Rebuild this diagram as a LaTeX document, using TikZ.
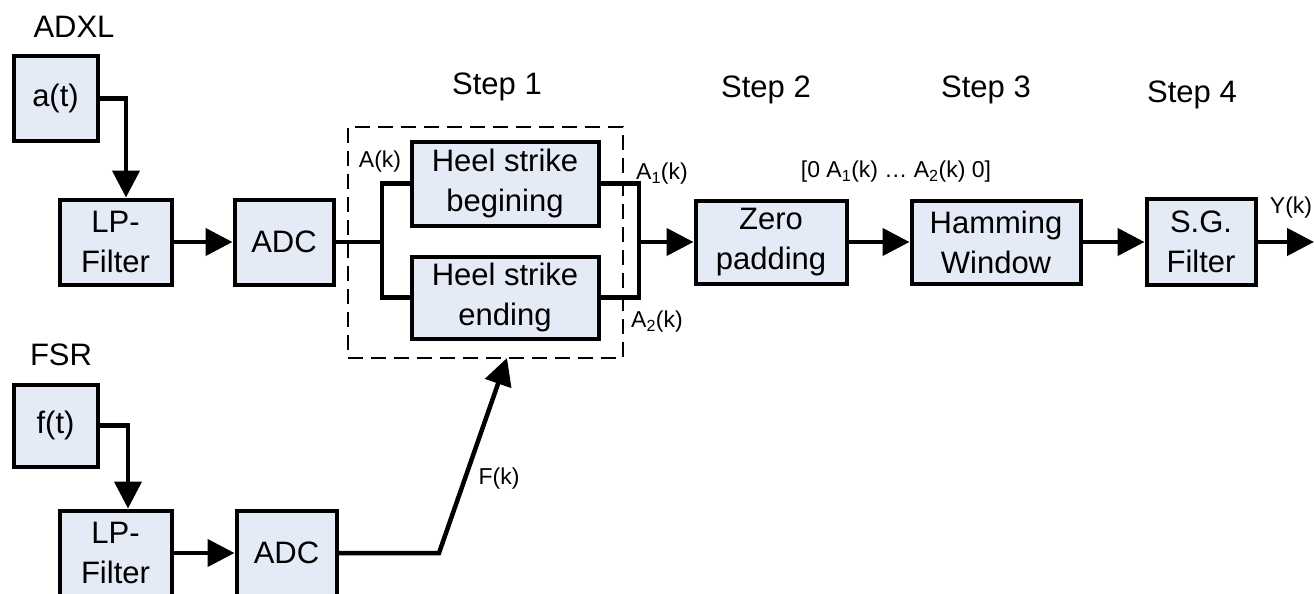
\documentclass[tikz,border=0pt]{standalone}
\usepackage{fontspec}
\setmainfont{Liberation Sans}
\usetikzlibrary{arrows.meta}
\definecolor{boxfill}{RGB}{228,234,246}
\tikzset{
  blk/.style={draw=black, fill=boxfill, line width=4pt, inner sep=0pt, align=center,
              font=\fontsize{31}{40}\selectfont},
  conn/.style={line width=4.5pt},
  arr/.style={conn, -{Triangle[length=27pt,width=27pt]}},
  big/.style={font=\fontsize{31}{37}\selectfont, inner sep=0pt},
  small/.style={font=\fontsize{23}{27}\selectfont, inner sep=0pt},
  grpbox/.style={draw=black, line width=2.5pt, dash pattern=on 15pt off 8pt, inner sep=0pt}
}
\begin{document}
\begin{tikzpicture}[x=1pt,y=-1pt]
\useasboundingbox (0,0) rectangle (1314,594);
\clip (0,0) rectangle (1314,594);

% titles
\node[big] (adxl) at (74,27) {ADXL};
\node[big] (fsr) at (61,355) {FSR};
\node[big] (s1) at (497,87) {Step 1};
\node[big] (s2) at (766,90) {Step 2};
\node[big] (s3) at (986,90) {Step 3};
\node[big] (s4) at (1192,95) {Step 4};

% dashed group
\node[grpbox, minimum width=275pt, minimum height=231pt] (grp) at (485.5,242.5) {};

% blocks
\node[blk, minimum width=84pt, minimum height=84pt] (at) at (55.5,98.5) {a(t)};
\node[blk, minimum width=112pt, minimum height=85pt] (lp1) at (115.5,242) {LP-\\Filter};
\node[blk, minimum width=99pt, minimum height=85pt] (adc1) at (284,242) {ADC};
\node[blk, minimum width=187pt, minimum height=84pt] (hsb) at (505,183.5) {Heel strike\\begining};
\node[blk, minimum width=187pt, minimum height=82pt] (hse) at (505,297.5) {Heel strike\\ending};
\node[blk, minimum width=151pt, minimum height=83pt] (zero) at (771,242) {Zero\\padding};
\node[blk, minimum width=169pt, minimum height=83pt] (ham) at (996,242) {Hamming\\Window};
\node[blk, minimum width=109pt, minimum height=86pt] (sg) at (1201,242) {S.G.\\Filter};

\node[blk, minimum width=84pt, minimum height=82pt] (ft) at (55.5,425.5) {f(t)};
\node[blk, minimum width=112pt, minimum height=85pt] (lp2) at (115.5,553) {LP-\\Filter};
\node[blk, minimum width=100pt, minimum height=85pt] (adc2) at (286.5,553) {ADC};

% small labels
\node[small] (ak) at (380,162) {A(k)};
\node[small] (a1k) at (662,174) {A\textsubscript{1}(k)};
\node[small] (a2k) at (657,322) {A\textsubscript{2}(k)};
\node[small] (seq) at (896,172) {[0 A\textsubscript{1}(k) … A\textsubscript{2}(k) 0]};
\node[small] (yk) at (1291,208) {Y(k)};
\node[small] (fkl) at (499,479) {F(k)};

% coordinates
\coordinate (jl) at (382,242);
\coordinate (jr) at (639,242);
\coordinate (yend) at (1314,242);
\coordinate (fk) at (439,553);
\coordinate (fin) at (507,358);

% connectors top
\draw[arr] (at.east) -| ([xshift=10.5pt]lp1.north);
\draw[arr] (lp1.east) -- (adc1.west);
\draw[conn] (adc1.east) -- (jl);
\draw[conn] (hsb.west) -| (jl) |- (hse.west);
\draw[conn] (hsb.east) -| (jr) |- (hse.east);
\draw[arr] (jr) -- (zero.west);
\draw[arr] (zero.east) -- (ham.west);
\draw[arr] (ham.east) -- (sg.west);
\draw[arr] (sg.east) -- (yend);

% connectors bottom
\draw[arr] (ft.east) -| ([xshift=12.5pt]lp2.north);
\draw[arr] (lp2.east) -- (adc2.west);
\draw[arr] (adc2.east) -- (fk) -- (fin);
\end{tikzpicture}
\end{document}
